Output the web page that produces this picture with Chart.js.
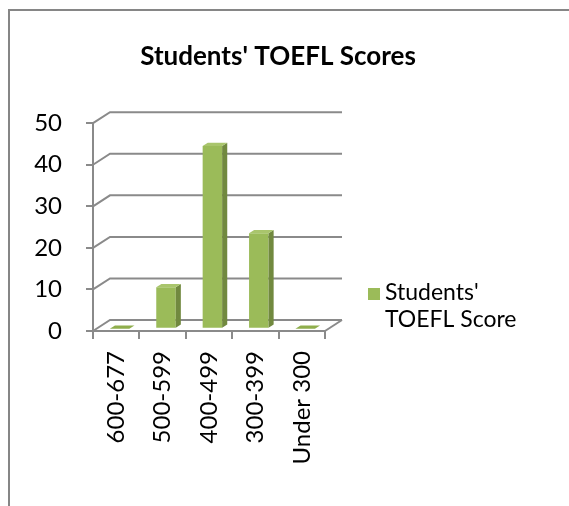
<!DOCTYPE html>
<html>
<head>
<meta charset="utf-8">
<script src="https://cdn.jsdelivr.net/npm/chart.js@4"></script>
<style>
  html, body { margin: 0; padding: 0; background: #fff; }
  #wrap { position: relative; width: 569px; height: 506px; }
  #frame { position: absolute; left: 8px; top: 9px; right: -4px; bottom: -4px;
           border-left: 2px solid #868686; border-top: 2px solid #868686; }
  canvas { position: absolute; left: 0; top: 0; }
</style>
</head>
<body>
<div id="wrap">
  <div id="frame"></div>
  <canvas id="toefl" width="569" height="506"></canvas>
</div>
<script>
// data
const categories = ['600-677', '500-599', '400-499', '300-399', 'Under 300'];
const students = [0, 10, 44, 23, 0];
const yTicks = [0, 10, 20, 30, 40, 50];

const FONT = 'Lato, Carlito, Calibri, sans-serif';
const GRID = '#8a8a8a';
const GREEN = '#9bbb59';
// oblique depth of the floor / back wall
const DEPTH = { dx: 17, dy: -11 };
const BAR_FRONT = 0.2, BAR_DEPTH = 0.3;

// gridlines, floor and back wall drawn from the y scale
const walls = {
    id: 'walls',
    beforeDatasetsDraw(chart) {
        const {ctx, chartArea: a, scales: {y}} = chart;
        ctx.save();
        ctx.strokeStyle = GRID;
        ctx.lineWidth = 2;
        yTicks.forEach(v => {
            const py = y.getPixelForValue(v);
            ctx.beginPath();
            ctx.moveTo(a.left, py);
            ctx.lineTo(a.left + DEPTH.dx, py + DEPTH.dy);
            ctx.lineTo(a.right + DEPTH.dx, py + DEPTH.dy);
            ctx.stroke();
        });
        // floor right edge
        const p0 = y.getPixelForValue(0);
        ctx.beginPath();
        ctx.moveTo(a.right, p0);
        ctx.lineTo(a.right + DEPTH.dx, p0 + DEPTH.dy);
        ctx.stroke();
        ctx.restore();
        // shift the bar front faces back into the depth
        ctx.save();
        ctx.translate(DEPTH.dx * BAR_FRONT, DEPTH.dy * BAR_FRONT);
    },
    afterDatasetsDraw(chart) {
        const {ctx} = chart;
        const sx = DEPTH.dx * BAR_DEPTH, sy = DEPTH.dy * BAR_DEPTH;
        chart.getDatasetMeta(0).data.forEach(bar => {
            const l = bar.x - bar.width / 2, r = bar.x + bar.width / 2;
            const t = Math.min(bar.y, bar.base), b = bar.base;
            // side face
            if (b - t > 0.5) {
                ctx.fillStyle = '#71893f';
                ctx.beginPath();
                ctx.moveTo(r, t);
                ctx.lineTo(r + sx, t + sy);
                ctx.lineTo(r + sx, b + sy);
                ctx.lineTo(r, b);
                ctx.closePath();
                ctx.fill();
            }
            // top face
            ctx.fillStyle = b - t > 0.5 ? '#a9c56c' : '#8fae4c';
            ctx.beginPath();
            ctx.moveTo(l, t);
            ctx.lineTo(l + sx, t + sy);
            ctx.lineTo(r + sx, t + sy);
            ctx.lineTo(r, t);
            ctx.closePath();
            ctx.fill();
        });
        ctx.restore();
    }
};

// two-line legend on the right
const sideLegend = {
    id: 'sideLegend',
    afterDraw(chart) {
        const {ctx} = chart;
        const ds = chart.data.datasets[0];
        ctx.save();
        ctx.fillStyle = ds.backgroundColor;
        ctx.fillRect(368, 288, 12, 12);
        ctx.fillStyle = '#000';
        ctx.font = '23px ' + FONT;
        ctx.textBaseline = 'middle';
        ctx.fillText("Students'", 385, 293);
        ctx.fillText('TOEFL Score', 385, 320);
        ctx.restore();
    }
};

new Chart('toefl', {
    type: 'bar',
    data: {
        labels: categories,
        datasets: [{
            label: "Students' TOEFL Score",
            data: students,
            backgroundColor: GREEN,
            categoryPercentage: 1,
            barPercentage: 0.42,
        }]
    },
    options: {
        responsive: false,
        animation: false,
        layout: { padding: { left: 0, right: 13, top: 0, bottom: 0 } },
        plugins: {
            legend: { display: false },
            tooltip: { enabled: false },
            title: {
                display: true,
                text: "Students' TOEFL Scores",
                color: '#000',
                font: { family: FONT, size: 26, weight: 'bold', lineHeight: 1.2 },
                padding: { top: 41, bottom: 51 },
            },
        },
        scales: {
            x: {
                afterFit(s) { s.height = 175; },
                grid: { offset: true, drawOnChartArea: false, color: GRID, lineWidth: 2, tickLength: 8 },
                border: { color: GRID, width: 2 },
                ticks: { color: '#000', font: { family: FONT, size: 24 }, minRotation: 90, maxRotation: 90, padding: 12 },
            },
            y: {
                min: 0, max: 50,
                afterFit(s) { s.width = 93; },
                grid: { drawOnChartArea: false, color: GRID, lineWidth: 2, tickLength: 7 },
                border: { color: GRID, width: 2 },
                ticks: { stepSize: 10, color: '#000', font: { family: FONT, size: 24 }, padding: 24 },
            },
            // empty right-hand axis that keeps room for the legend
            side: {
                type: 'linear',
                position: 'right',
                afterFit(s) { s.width = 231; },
                grid: { display: false },
                border: { display: false },
                ticks: { display: false },
            },
        },
    },
    plugins: [walls, sideLegend],
});
</script>
</body>
</html>
